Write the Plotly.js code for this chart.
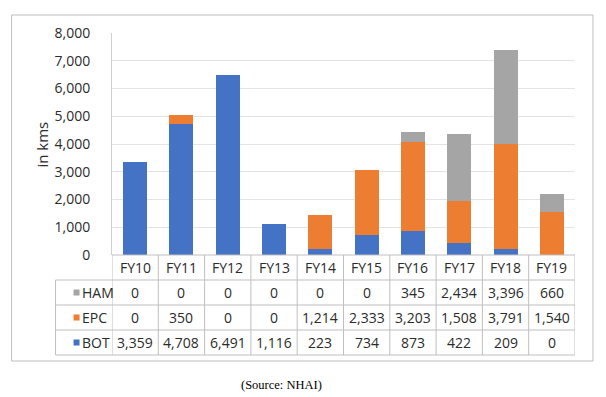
<!DOCTYPE html>
<html>
<head>
<meta charset="utf-8">
<script src="https://cdn.plot.ly/plotly-3.0.1.min.js"></script>
<style>html,body{margin:0;padding:0;background:#fff;}#chart{width:606px;height:397px;}</style>
</head>
<body>
<div id="chart"></div>
<script>
const categories = ['FY10','FY11','FY12','FY13','FY14','FY15','FY16','FY17','FY18','FY19'];
const bot = [3359,4708,6491,1116,223,734,873,422,209,0];
const epc = [0,350,0,0,1214,2333,3203,1508,3791,1540];
const ham = [0,0,0,0,0,0,345,2434,3396,660];
const seriesNames = ['BOT','EPC','HAM'];
const seriesColors = ['#4472C4','#ED7D31','#A5A5A5'];
const yTicks = [0,1000,2000,3000,4000,5000,6000,7000,8000];
const yTitle = 'in kms';
const sourceText = '(Source: NHAI)';

const L=111.5, R=575, T=33, B=255, W=R-L, H=B-T;
const px = x => (x-L)/W;
const py = y => (B-y)/H;
const FONT = 'Open Sans, sans-serif';
const TXT = '#2b2b2b';
const LINE = '#bfbfbf';

const values = [bot, epc, ham];
const traces = values.map((v,k)=>({
  type:'bar', x:categories, y:v, name:seriesNames[k],
  marker:{color:seriesColors[k], line:{width:0}}
}));

const shapes = [];
const annotations = [];
const hline = (y, x0, x1) => shapes.push({type:'line', xref:'paper', yref:'paper', x0:px(x0), x1:px(x1), y0:py(y), y1:py(y), line:{color:LINE, width:1}});
const rowTop = [255, 280, 305, 330, 355];
hline(rowTop[0], L, R);
for (let r=1;r<rowTop.length;r++) hline(rowTop[r], 55, R);
shapes.push({type:'line', xref:'paper', yref:'paper', x0:px(55), x1:px(55), y0:py(280), y1:py(355), line:{color:LINE, width:1}});
for (let i=0;i<=categories.length;i++) {
  shapes.push({type:'line', xref:'x', yref:'paper', x0:i-0.5, x1:i-0.5, y0:py(255), y1:py(355), line:{color:LINE, width:1}});
}
categories.forEach((c,i)=>{
  annotations.push({xref:'x', yref:'paper', x:i, y:py((rowTop[0]+rowTop[1])/2), text:c, showarrow:false, xanchor:'center', yanchor:'middle', font:{family:FONT, size:14, color:TXT}});
});
const rowOrder = [2,1,0];
rowOrder.forEach((k,r)=>{
  const yc = (rowTop[r+1]+rowTop[r+2])/2;
  shapes.push({type:'rect', xref:'paper', yref:'paper', x0:px(73), x1:px(79), y0:py(yc-3), y1:py(yc+3), fillcolor:seriesColors[k], line:{width:0}});
  annotations.push({xref:'paper', yref:'paper', x:px(79), y:py(yc), text:seriesNames[k], showarrow:false, xanchor:'left', yanchor:'middle', font:{family:FONT, size:14, color:TXT}});
  values[k].forEach((v,i)=>{
    annotations.push({xref:'x', yref:'paper', x:i, y:py(yc), text:v.toLocaleString('en-US'), showarrow:false, xanchor:'center', yanchor:'middle', font:{family:FONT, size:14, color:TXT}});
  });
});
shapes.push({type:'rect', xref:'paper', yref:'paper', x0:px(11), x1:px(593), y0:py(15), y1:py(361), line:{color:LINE, width:1}, fillcolor:'rgba(0,0,0,0)'});
annotations.push({xref:'paper', yref:'paper', x:px(41), y:py(145), text:yTitle, textangle:-90, showarrow:false, xanchor:'center', yanchor:'middle', font:{family:FONT, size:15, color:TXT}});
annotations.push({xref:'paper', yref:'paper', x:px(281), y:py(385), text:sourceText, showarrow:false, xanchor:'center', yanchor:'middle', font:{family:'Liberation Serif, Times New Roman, serif', size:12.5, color:'#000'}});

const layout = {
  width:606, height:397,
  margin:{l:L, r:606-R, t:T, b:397-B, pad:0},
  paper_bgcolor:'#fff', plot_bgcolor:'#fff',
  barmode:'stack', bargap:0.48, showlegend:false,
  xaxis:{type:'category', range:[-0.5, categories.length-0.5], showticklabels:false, showgrid:false, zeroline:false, showline:false, ticks:''},
  yaxis:{range:[0,8000], tickvals:yTicks, ticktext:yTicks.map(v=>v.toLocaleString('en-US')), showgrid:true, gridcolor:'#e4e4e4', gridwidth:1, zeroline:false, showline:true, linecolor:'#d0d0d0', linewidth:1, ticks:'outside', ticklen:18, tickcolor:'rgba(0,0,0,0)', tickfont:{family:FONT, size:14, color:TXT}},
  shapes, annotations
};
Plotly.newPlot('chart', traces, layout, {staticPlot:true, displayModeBar:false});
</script>
</body>
</html>
